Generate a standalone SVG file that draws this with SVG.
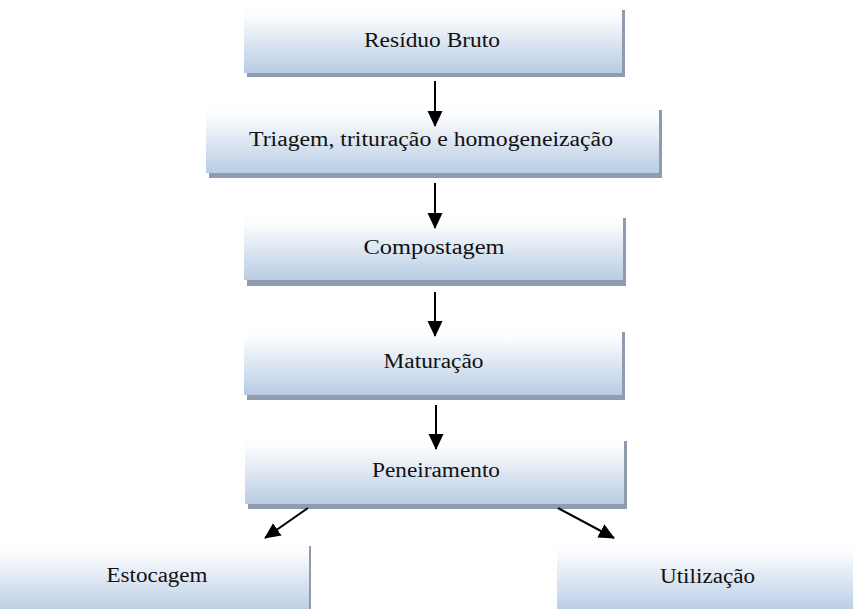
<svg xmlns="http://www.w3.org/2000/svg" width="853" height="609" viewBox="0 0 853 609">
<defs>
<linearGradient id="g" x1="0" y1="0" x2="0" y2="1">
<stop offset="0" stop-color="#ffffff"/>
<stop offset="0.15" stop-color="#fbfcfe"/>
<stop offset="1" stop-color="#b8cce4"/>
</linearGradient>
<marker id="ah2" markerWidth="16" markerHeight="16" refX="15" refY="8" orient="auto" markerUnits="userSpaceOnUse" viewBox="0 0 16 16">
<path d="M0,0.5 L16,8 L0,15.5 Z" fill="#000"/>
</marker>
</defs>
<style>
.box{fill:url(#g);}
.sh{fill:#909cad;}
.t{font-family:"Liberation Serif","Times New Roman",serif;font-size:20px;fill:#111;text-anchor:middle;}
.c{stroke:#000;stroke-width:2;fill:none;}
</style>
<rect width="853" height="609" fill="#fff"/>
<g id="n1">
<rect class="sh" x="247" y="10" width="378" height="67"/>
<rect class="box" x="244" y="6" width="378" height="67"/>
<text class="t" x="432" y="47" textLength="136" lengthAdjust="spacingAndGlyphs">Resíduo Bruto</text>
</g>
<g id="n2">
<rect class="sh" x="209" y="110" width="453" height="68"/>
<rect class="box" x="206" y="106" width="453" height="67"/>
<text class="t" x="431" y="146" textLength="364" lengthAdjust="spacingAndGlyphs">Triagem, trituração e homogeneização</text>
</g>
<g id="n3">
<rect class="sh" x="247" y="218" width="379" height="68"/>
<rect class="box" x="244" y="214" width="379" height="66"/>
<text class="t" x="434" y="254" textLength="141" lengthAdjust="spacingAndGlyphs">Compostagem</text>
</g>
<g id="n4">
<rect class="sh" x="247" y="332" width="378" height="68"/>
<rect class="box" x="244" y="328" width="378" height="67"/>
<text class="t" x="433.5" y="368" textLength="100" lengthAdjust="spacingAndGlyphs">Maturação</text>
</g>
<g id="n5">
<rect class="sh" x="248" y="441" width="379" height="68"/>
<rect class="box" x="245" y="437" width="379" height="67"/>
<text class="t" x="436" y="477" textLength="128" lengthAdjust="spacingAndGlyphs">Peneiramento</text>
</g>
<g id="n6">
<rect class="sh" x="0" y="546" width="311" height="70"/>
<rect class="box" x="0" y="543" width="309" height="70"/>
<text class="t" x="157" y="582" textLength="101" lengthAdjust="spacingAndGlyphs">Estocagem</text>
</g>
<g id="n7">
<rect class="box" x="557" y="542" width="300" height="70"/>
<text class="t" x="707.5" y="583" textLength="95" lengthAdjust="spacingAndGlyphs">Utilização</text>
</g>
<g id="connectors">
<line class="c" x1="435" y1="81" x2="435" y2="126" marker-end="url(#ah2)"/>
<line class="c" x1="435" y1="183" x2="435" y2="228" marker-end="url(#ah2)"/>
<line class="c" x1="435" y1="292" x2="435" y2="336" marker-end="url(#ah2)"/>
<line class="c" x1="436" y1="405" x2="436" y2="449" marker-end="url(#ah2)"/>
<line class="c" x1="308" y1="508" x2="265" y2="538" marker-end="url(#ah2)"/>
<line class="c" x1="558" y1="508" x2="614" y2="538" marker-end="url(#ah2)"/>
</g>
</svg>
